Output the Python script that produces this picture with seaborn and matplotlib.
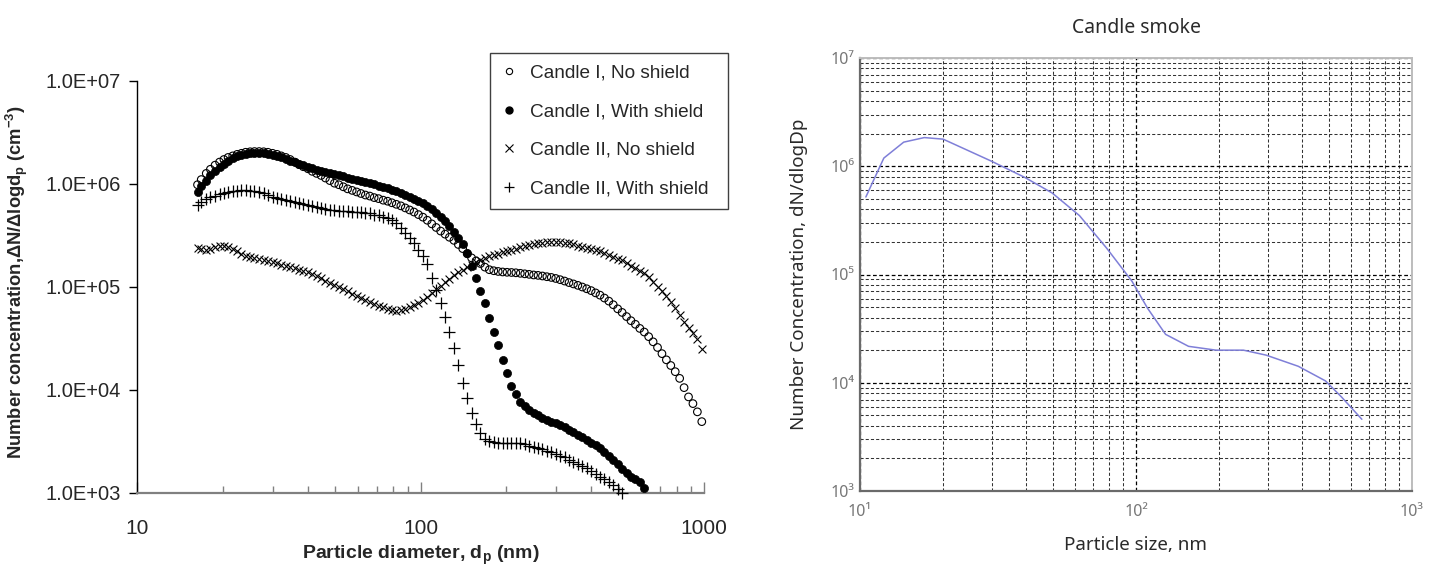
import numpy as np
import matplotlib
matplotlib.use("Agg")
import matplotlib.pyplot as plt
import seaborn as sns
from matplotlib.lines import Line2D
from matplotlib.ticker import (LogLocator, FixedLocator, FixedFormatter,
                               FuncFormatter, NullFormatter)

# ---------------- data: left panel (SMPS channels, nm) ----------------
diameter_nm = [
    16.3, 16.8, 17.5, 18.1, 18.8, 19.5, 20.2, 20.9, 21.7, 22.5,
    23.3, 24.1, 25.0, 25.9, 26.9, 27.9, 28.9, 30.0, 31.1, 32.2,
    33.4, 34.6, 35.9, 37.2, 38.5, 40.0, 41.4, 42.9, 44.5, 46.1,
    47.8, 49.6, 51.4, 53.3, 55.2, 57.3, 59.4, 61.5, 63.8, 66.1,
    68.5, 71.0, 73.7, 76.4, 79.1, 82.0, 85.1, 88.2, 91.4, 94.7,
    98.2, 101.8, 105.5, 109.4, 113.4, 117.6, 121.9, 126.3, 131.0, 135.8,
    140.7, 145.9, 151.2, 156.8, 162.5, 168.5, 174.7, 181.1, 187.7, 194.6,
    201.7, 209.1, 216.7, 224.7, 232.9, 241.4, 250.3, 259.5, 269.0, 278.8,
    289.0, 299.6, 310.6, 322.0, 333.8, 346.0, 358.7, 371.8, 385.4, 399.5,
    414.2, 429.4, 445.1, 461.4, 478.3, 495.8, 514.0, 532.8, 552.3, 572.5,
    593.5, 615.3, 637.8, 661.2, 685.4, 710.5, 736.5, 763.5, 791.5, 820.5,
    850.5, 881.7, 914.0, 947.5, 982.2,
]

# log10 of dN/dlogDp (cm^-3), one value per channel
candle1_noshield_log = [
    5.99, 6.04, 6.10, 6.14, 6.18, 6.21, 6.235, 6.255, 6.27, 6.285,
    6.295, 6.305, 6.31, 6.312, 6.312, 6.31, 6.305, 6.295, 6.285, 6.27,
    6.255, 6.235, 6.21, 6.185, 6.165, 6.145, 6.12, 6.10, 6.08, 6.055,
    6.03, 6.005, 5.99, 5.97, 5.95, 5.935, 5.92, 5.905, 5.89, 5.88,
    5.865, 5.855, 5.84, 5.83, 5.815, 5.80, 5.785, 5.765, 5.745, 5.725,
    5.70, 5.675, 5.645, 5.61, 5.575, 5.54, 5.51, 5.48, 5.45, 5.41,
    5.37, 5.32, 5.28, 5.25, 5.225, 5.19, 5.165, 5.155, 5.148, 5.143,
    5.14, 5.138, 5.135, 5.13, 5.125, 5.12, 5.114, 5.11, 5.104, 5.097,
    5.09, 5.08, 5.068, 5.055, 5.04, 5.027, 5.013, 4.997, 4.98, 4.962,
    4.94, 4.918, 4.89, 4.86, 4.825, 4.785, 4.75, 4.71, 4.67, 4.635,
    4.595, 4.56, 4.515, 4.465, 4.41, 4.35, 4.29, 4.235, 4.175, 4.11,
    4.02, 3.93, 3.865, 3.785, 3.69,
]

candle1_shield_log = [
    5.92, 5.98, 6.03, 6.08, 6.12, 6.16, 6.19, 6.22, 6.245, 6.265,
    6.28, 6.29, 6.295, 6.297, 6.297, 6.295, 6.29, 6.28, 6.27, 6.255,
    6.24, 6.225, 6.21, 6.195, 6.18, 6.165, 6.15, 6.135, 6.12, 6.11,
    6.10, 6.09, 6.08, 6.07, 6.06, 6.05, 6.04, 6.03, 6.02, 6.01,
    5.995, 5.98, 5.968, 5.955, 5.94, 5.925, 5.91, 5.89, 5.875, 5.855,
    5.835, 5.81, 5.785, 5.755, 5.72, 5.68, 5.64, 5.59, 5.535, 5.475,
    5.41, 5.33, 5.20, 5.08, 4.96, 4.84, 4.70, 4.56, 4.43, 4.29,
    4.16, 4.04, 3.955, 3.885, 3.84, 3.80, 3.77, 3.755, 3.73, 3.706,
    3.69, 3.673, 3.657, 3.635, 3.613, 3.592, 3.565, 3.54, 3.512, 3.487,
    3.46, 3.431, 3.395, 3.355, 3.318, 3.275, 3.23, 3.19, 3.155, 3.13,
    3.10, 3.045,
]

candle2_noshield_log = [
    5.38, 5.365, 5.36, 5.37, 5.385, 5.395, 5.40, 5.39, 5.37, 5.345,
    5.32, 5.30, 5.29, 5.28, 5.27, 5.26, 5.25, 5.24, 5.23, 5.215,
    5.205, 5.19, 5.18, 5.165, 5.155, 5.14, 5.125, 5.10, 5.08, 5.06,
    5.04, 5.02, 5.00, 4.98, 4.955, 4.93, 4.91, 4.89, 4.87, 4.85,
    4.83, 4.815, 4.80, 4.785, 4.77, 4.765, 4.77, 4.785, 4.80, 4.82,
    4.845, 4.87, 4.90, 4.935, 4.975, 5.01, 5.045, 5.075, 5.11, 5.14,
    5.165, 5.19, 5.215, 5.24, 5.26, 5.28, 5.295, 5.31, 5.32, 5.335,
    5.345, 5.36, 5.37, 5.385, 5.395, 5.405, 5.415, 5.42, 5.428, 5.432,
    5.435, 5.435, 5.432, 5.428, 5.42, 5.41, 5.40, 5.39, 5.38, 5.37,
    5.36, 5.35, 5.33, 5.31, 5.29, 5.27, 5.255, 5.23, 5.205, 5.18,
    5.155, 5.13, 5.095, 5.05, 5.00, 4.955, 4.905, 4.85, 4.79, 4.725,
    4.655, 4.60, 4.55, 4.49, 4.40,
]

candle2_shield_log = [
    5.795, 5.825, 5.85, 5.87, 5.885, 5.898, 5.91, 5.92, 5.928, 5.932,
    5.935, 5.935, 5.932, 5.925, 5.915, 5.905, 5.89, 5.875, 5.862, 5.85,
    5.84, 5.83, 5.82, 5.81, 5.80, 5.792, 5.782, 5.772, 5.762, 5.755,
    5.748, 5.742, 5.738, 5.735, 5.733, 5.73, 5.726, 5.722, 5.718, 5.712,
    5.70, 5.692, 5.68, 5.665, 5.645, 5.615, 5.57, 5.52, 5.47, 5.42,
    5.36, 5.30, 5.225, 5.085, 4.968, 4.839, 4.709, 4.563, 4.402, 4.24,
    4.068, 3.917, 3.771, 3.667, 3.577, 3.52, 3.50, 3.49, 3.485, 3.482,
    3.48, 3.48, 3.48, 3.478, 3.47, 3.458, 3.445, 3.433, 3.42, 3.405,
    3.395, 3.38, 3.36, 3.342, 3.322, 3.30, 3.28, 3.258, 3.235, 3.21,
    3.18, 3.155, 3.13, 3.10, 3.075, 3.04, 3.00,
]

series_labels = ["Candle I, No shield", "Candle I, With shield",
                 "Candle II, No shield", "Candle II, With shield"]

left_xticks = [10, 100, 1000]
left_yticks = [1e3, 1e4, 1e5, 1e6, 1e7]

# ---------------- data: right panel ----------------
smoke_size_nm = [10.5, 12.2, 14.4, 17.1, 20.0, 29.8, 39.5, 49.7, 62.4, 78.3,
                 96.6, 110, 128, 155, 195, 245, 296, 387, 486, 555, 658]
smoke_conc = [5.2e5, 1.19e6, 1.67e6, 1.84e6, 1.78e6, 1.12e6, 7.9e5, 5.66e5,
              3.5e5, 1.75e5, 8.7e4, 4.9e4, 2.8e4, 2.17e4, 2.0e4, 2.0e4,
              1.8e4, 1.42e4, 1.04e4, 7.4e3, 4.6e3]
right_xticks = [10, 100, 1000]
right_xticklabels = ["10\u00b9", "10\u00b2", "10\u00b3"]
right_yticks = [1e3, 1e4, 1e5, 1e6, 1e7]
right_yticklabels = ["10\u00b3", "10\u2074", "10\u2075", "10\u2076", "10\u2077"]

# ---------------- styling ----------------
sns.set_theme(style="white")
plt.rcParams["font.family"] = ["Liberation Sans", "DejaVu Sans"]
plt.rcParams["mathtext.fontset"] = "custom"
plt.rcParams["mathtext.rm"] = "Liberation Sans:bold"
plt.rcParams["mathtext.it"] = "Liberation Sans:bold"
plt.rcParams["mathtext.bf"] = "Liberation Sans:bold"
plt.rcParams["mathtext.default"] = "regular"

W, H = 1434, 571
fig = plt.figure(figsize=(W / 100, H / 100), dpi=100)
fig.patch.set_facecolor("white")

def px_axes(x0, y0, x1, y1):
    return fig.add_axes([x0 / W, 1 - y1 / H, (x1 - x0) / W, (y1 - y0) / H])

axL = px_axes(137.4, 80.7, 704.0, 492.7)
axR = px_axes(860.0, 58.0, 1412.0, 491.0)

# ---------------- left panel ----------------
d = np.array(diameter_nm)
c1n = 10 ** np.array(candle1_noshield_log)
c1s = 10 ** np.array(candle1_shield_log)
c2n = 10 ** np.array(candle2_noshield_log)
c2s = 10 ** np.array(candle2_shield_log)

sns.scatterplot(x=d[:len(c1n)], y=c1n, ax=axL, marker="o", s=30,
                color="black", facecolor="none", edgecolor="black",
                linewidth=0.8, clip_on=False, zorder=3, legend=False)
sns.scatterplot(x=d[:len(c1s)], y=c1s, ax=axL, marker="o", s=34,
                color="black", edgecolor="black", linewidth=0.5,
                clip_on=False, zorder=3, legend=False)
sns.scatterplot(x=d[:len(c2n)], y=c2n, ax=axL, marker="x", s=32,
                color="black", linewidth=0.8, clip_on=False, zorder=3,
                legend=False)
sns.scatterplot(x=d[:len(c2s)], y=c2s, ax=axL, marker="+", s=70,
                color="black", linewidth=0.9, clip_on=False, zorder=3,
                legend=False)

axL.set_xscale("log")
axL.set_yscale("log")
axL.set_xlim(10, 1000)
axL.set_ylim(1e3, 1e7)
axL.set_facecolor("white")
for s in ("top", "right"):
    axL.spines[s].set_visible(False)
axL.spines["left"].set_color("black")
axL.spines["left"].set_linewidth(1.0)
axL.spines["bottom"].set_color("#808080")
axL.spines["bottom"].set_linewidth(1.6)

axL.xaxis.set_major_locator(FixedLocator(left_xticks))
axL.xaxis.set_major_formatter(FuncFormatter(lambda v, p: f"{v:.0f}"))
axL.xaxis.set_minor_locator(LogLocator(base=10, subs=np.arange(2, 10), numticks=20))
axL.xaxis.set_minor_formatter(NullFormatter())
axL.yaxis.set_major_locator(FixedLocator(left_yticks))
axL.yaxis.set_major_formatter(FuncFormatter(lambda v, p: f"{v:.1E}"))
axL.yaxis.set_minor_locator(FixedLocator([]))
axL.tick_params(axis="x", which="major", direction="in", length=8, width=1.0,
                color="#808080", labelsize=15, pad=19, bottom=True)
axL.tick_params(axis="x", which="minor", direction="in", length=5, width=1.0,
                color="#808080", bottom=True)
axL.tick_params(axis="y", which="major", direction="out", length=6, width=1.0,
                color="black", labelsize=14.5, pad=6, left=True)

axL.set_xlabel("Particle diameter, d$_p$ (nm)", fontsize=14, fontweight="bold")
axL.xaxis.set_label_coords(0.5, -0.125)
axL.set_ylabel("Number concentration,\u0394N/\u0394logd$_p$ (cm$^{-3}$)",
               fontsize=13.2, fontweight="bold")
axL.yaxis.set_label_coords(-0.19, 0.51)

handles = [
    Line2D([], [], ls="", marker="o", mfc="none", mec="black", ms=4.5, mew=0.8),
    Line2D([], [], ls="", marker="o", mfc="black", mec="black", ms=5),
    Line2D([], [], ls="", marker="x", color="black", ms=6, mew=0.8),
    Line2D([], [], ls="", marker="+", color="black", ms=7.5, mew=0.9),
]
leg = axL.legend(handles, series_labels, loc="upper left",
                 bbox_to_anchor=(490 / W, 1 - 208 / H, 238 / W, 155 / H),
                 bbox_transform=fig.transFigure, mode="expand",
                 frameon=True, fancybox=False,
                 framealpha=1, edgecolor="#404040", fontsize=13.7,
                 handlelength=0.8, handletextpad=0.72, borderpad=0.6,
                 labelspacing=1.12, borderaxespad=0)
leg.get_frame().set_linewidth(1.0)

# ---------------- right panel ----------------
sns.lineplot(x=smoke_size_nm, y=smoke_conc, ax=axR, color="#7f7fd8",
             linewidth=1.1, sort=False, zorder=3)
axR.set_xscale("log")
axR.set_yscale("log")
axR.set_xlim(10, 1000)
axR.set_ylim(1e3, 1e7)
axR.set_facecolor("white")

axR.xaxis.set_major_locator(FixedLocator(right_xticks))
axR.xaxis.set_major_formatter(FixedFormatter(right_xticklabels))
axR.yaxis.set_major_locator(FixedLocator(right_yticks))
axR.yaxis.set_major_formatter(FixedFormatter(right_yticklabels))
for ax_ in (axR.xaxis, axR.yaxis):
    ax_.set_minor_locator(LogLocator(base=10, subs=np.arange(2, 10), numticks=20))
    ax_.set_minor_formatter(NullFormatter())

axR.grid(which="major", color="black", linestyle=(0, (3, 2)), linewidth=0.9)
axR.grid(which="minor", color="#333333", linestyle=(0, (3, 2)), linewidth=0.75)
axR.tick_params(which="both", direction="in", length=3, color="#777777",
                labelsize=11.5, labelcolor="#777777")
axR.tick_params(axis="x", which="major", pad=9)
axR.tick_params(axis="y", which="major", pad=4)
for lab in axR.get_xticklabels() + axR.get_yticklabels():
    lab.set_family(["Noto Sans", "DejaVu Sans"])

for s in ("left", "bottom"):
    axR.spines[s].set_color("#6a6a6a")
    axR.spines[s].set_linewidth(1.6)
for s in ("top", "right"):
    axR.spines[s].set_color("#bdbdbd")
    axR.spines[s].set_linewidth(1.4)

rfont = dict(family=["Noto Sans", "DejaVu Sans"], color="#2a2a2a")
axR.set_title("Candle smoke", fontsize=14, pad=18, **rfont)
axR.set_xlabel("Particle size, nm", fontsize=13.5, labelpad=12, **rfont)
axR.set_ylabel("Number Concentration, dN/dlogDp", fontsize=13.5,
               labelpad=16, **rfont)

fig.savefig("out.png", dpi=100, facecolor="white")
